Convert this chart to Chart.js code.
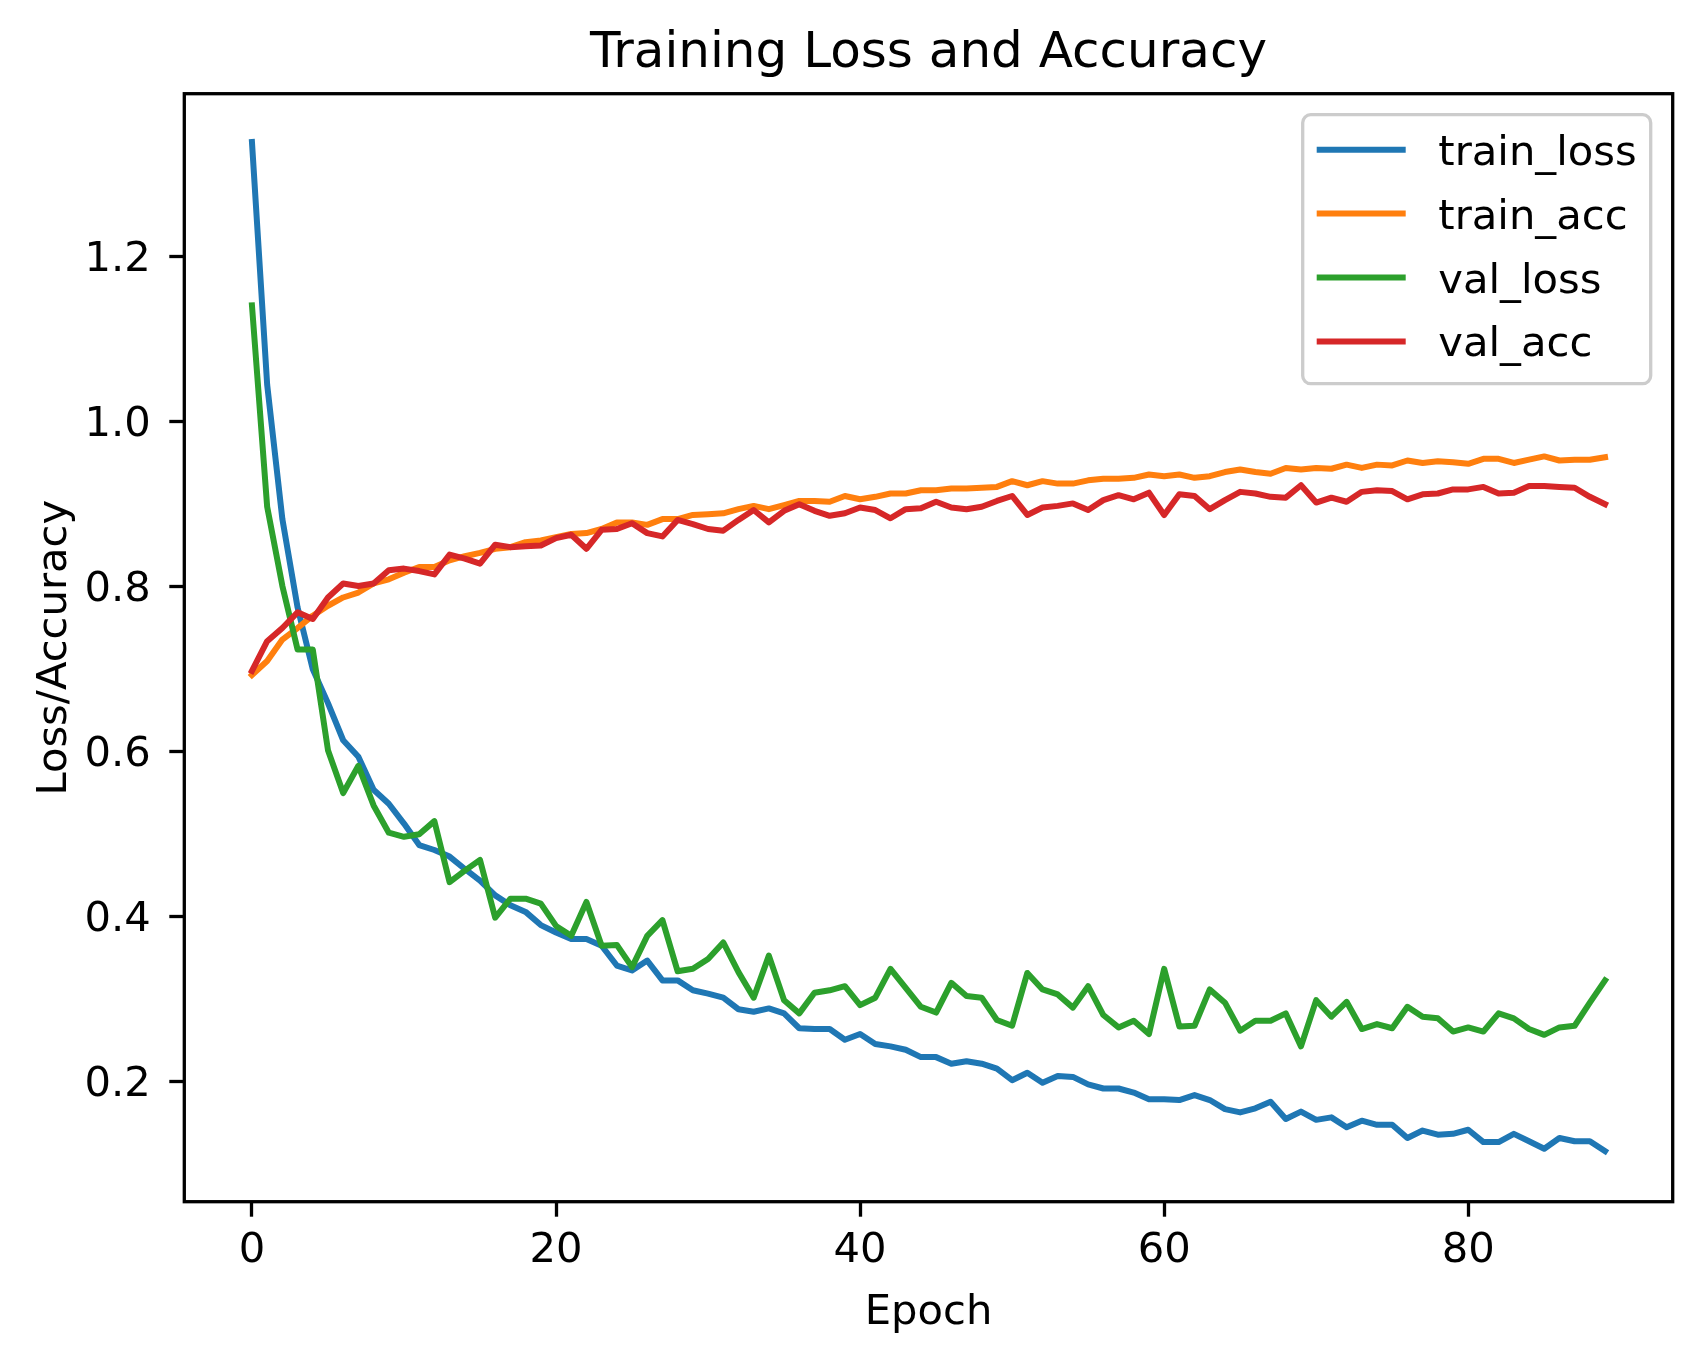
<!DOCTYPE html>
<html>
<head>
<meta charset="utf-8">
<title>Training Loss and Accuracy</title>
<script src="https://cdn.jsdelivr.net/npm/chart.js@4.4.1/dist/chart.umd.min.js"></script>
<style>
  html, body { margin: 0; padding: 0; background: #fff; }
  canvas { display: block; }
</style>
</head>
<body>
<canvas id="chart" width="1702" height="1361"></canvas>
<script>
// epochs 0..89
const epochs = Array.from({length: 90}, (_, i) => i)

const trainLoss = [1.339, 1.045, 0.882, 0.775, 0.700, 0.659, 0.614, 0.594, 0.554, 0.537,
    0.513, 0.487, 0.481, 0.473, 0.458, 0.444, 0.426, 0.414, 0.406, 0.390,
    0.381, 0.373, 0.373, 0.365, 0.341, 0.335, 0.347, 0.323, 0.323, 0.311,
    0.307, 0.302, 0.288, 0.285, 0.289, 0.283, 0.265, 0.264, 0.264, 0.251,
    0.258, 0.246, 0.243, 0.239, 0.230, 0.230, 0.222, 0.225, 0.222, 0.216,
    0.202, 0.211, 0.199, 0.207, 0.206, 0.197, 0.192, 0.192, 0.187, 0.179,
    0.179, 0.178, 0.184, 0.178, 0.167, 0.163, 0.168, 0.176, 0.155, 0.164,
    0.154, 0.157, 0.145, 0.153, 0.148, 0.148, 0.132, 0.141, 0.136, 0.137,
    0.142, 0.127, 0.127, 0.137, 0.128, 0.119, 0.132, 0.128, 0.128, 0.116]

const trainAcc = [0.693, 0.710, 0.736, 0.750, 0.765, 0.777, 0.787, 0.793, 0.804, 0.809,
    0.817, 0.824, 0.824, 0.832, 0.837, 0.841, 0.846, 0.848, 0.854, 0.856,
    0.860, 0.864, 0.865, 0.870, 0.878, 0.878, 0.875, 0.882, 0.882, 0.887,
    0.888, 0.889, 0.894, 0.898, 0.894, 0.899, 0.904, 0.904, 0.903, 0.910,
    0.906, 0.909, 0.913, 0.913, 0.917, 0.917, 0.919, 0.919, 0.920, 0.921,
    0.928, 0.923, 0.928, 0.925, 0.925, 0.929, 0.931, 0.931, 0.932, 0.936,
    0.934, 0.936, 0.932, 0.934, 0.939, 0.942, 0.939, 0.937, 0.944, 0.942,
    0.944, 0.943, 0.948, 0.944, 0.948, 0.947, 0.953, 0.950, 0.952, 0.951,
    0.949, 0.955, 0.955, 0.950, 0.954, 0.958, 0.953, 0.954, 0.954, 0.957]

const valLoss = [1.141, 0.897, 0.801, 0.724, 0.724, 0.602, 0.550, 0.583, 0.535, 0.502,
    0.497, 0.500, 0.516, 0.442, 0.456, 0.469, 0.399, 0.422, 0.422, 0.416,
    0.389, 0.377, 0.418, 0.365, 0.366, 0.339, 0.377, 0.396, 0.334, 0.337,
    0.349, 0.369, 0.333, 0.302, 0.353, 0.299, 0.283, 0.308, 0.311, 0.316,
    0.293, 0.302, 0.337, 0.314, 0.291, 0.284, 0.320, 0.304, 0.302, 0.275,
    0.268, 0.332, 0.312, 0.306, 0.290, 0.316, 0.281, 0.266, 0.274, 0.258,
    0.337, 0.267, 0.268, 0.312, 0.296, 0.262, 0.274, 0.274, 0.283, 0.243,
    0.299, 0.279, 0.297, 0.264, 0.270, 0.265, 0.291, 0.279, 0.277, 0.261,
    0.266, 0.261, 0.283, 0.277, 0.264, 0.257, 0.266, 0.268, 0.296, 0.323]

const valAcc = [0.698, 0.734, 0.750, 0.769, 0.761, 0.787, 0.804, 0.801, 0.804, 0.820,
    0.822, 0.819, 0.815, 0.839, 0.834, 0.828, 0.851, 0.848, 0.849, 0.850,
    0.859, 0.863, 0.846, 0.869, 0.870, 0.877, 0.865, 0.861, 0.881, 0.876,
    0.870, 0.868, 0.881, 0.893, 0.878, 0.892, 0.900, 0.892, 0.886, 0.889,
    0.896, 0.893, 0.883, 0.894, 0.895, 0.903, 0.896, 0.894, 0.897, 0.904,
    0.910, 0.887, 0.896, 0.898, 0.901, 0.893, 0.905, 0.911, 0.906, 0.914,
    0.887, 0.912, 0.910, 0.894, 0.905, 0.915, 0.913, 0.909, 0.908, 0.923,
    0.902, 0.908, 0.903, 0.915, 0.917, 0.916, 0.906, 0.912, 0.913, 0.918,
    0.918, 0.921, 0.913, 0.914, 0.922, 0.922, 0.921, 0.920, 0.909, 0.900]

const xTicks = [0, 20, 40, 60, 80]
const yTicks = [0.2, 0.4, 0.6, 0.8, 1.0, 1.2]

function points(values) {
    return values.map((v, i) => ({x: epochs[i], y: v}))
}

// box round the plot, drawn over the lines like matplotlib spines
const frame = {
    id: 'frame',
    afterDatasetsDraw(chart) {
        const {ctx, chartArea: a} = chart
        ctx.save()
        ctx.strokeStyle = '#000'
        ctx.lineWidth = 3.3
        ctx.strokeRect(a.left, a.top, a.right - a.left, a.bottom - a.top)
        ctx.restore()
    }
}

// legend inside the plot, upper right
const boxLegend = {
    id: 'boxLegend',
    afterDraw(chart) {
        const {ctx, chartArea: a} = chart
        const w = 348, h = 269
        const x0 = a.right - 22 - w
        const y0 = a.top + 21
        ctx.save()
        ctx.beginPath()
        ctx.roundRect(x0, y0, w, h, 8)
        ctx.fillStyle = 'rgba(255,255,255,0.8)'
        ctx.fill()
        ctx.lineWidth = 3.3
        ctx.strokeStyle = '#cccccc'
        ctx.stroke()
        ctx.font = '41.7px "DejaVu Sans"'
        ctx.textBaseline = 'alphabetic'
        chart.data.datasets.forEach((ds, i) => {
            const y = y0 + 35 + i * 63.9
            ctx.beginPath()
            ctx.moveTo(x0 + 14, y)
            ctx.lineTo(x0 + 103, y)
            ctx.strokeStyle = ds.borderColor
            ctx.lineWidth = 6
            ctx.lineCap = 'butt'
            ctx.stroke()
            ctx.fillStyle = '#000'
            ctx.fillText(ds.label, x0 + 135.6, y + 15)
        })
        ctx.restore()
    }
}

Chart.defaults.font.family = '"DejaVu Sans"'
Chart.defaults.color = '#000'

function lineSet(label, values, color, order) {
    return {
        label: label,
        data: points(values),
        borderColor: color,
        backgroundColor: color,
        borderWidth: 6,
        pointRadius: 0,
        tension: 0,
        fill: false,
        borderJoinStyle: 'round',
        borderCapStyle: 'square',
        order: order
    }
}

const ctx = document.getElementById('chart').getContext('2d')
new Chart(ctx, {
    type: 'line',
    data: {
        datasets: [
            lineSet('train_loss', trainLoss, '#1f77b4', 3),
            lineSet('train_acc', trainAcc, '#ff7f0e', 2),
            lineSet('val_loss', valLoss, '#2ca02c', 1),
            lineSet('val_acc', valAcc, '#d62728', 0)
        ]
    },
    options: {
        responsive: false,
        animation: false,
        devicePixelRatio: 1,
        layout: {padding: {left: 0, right: 29.3, top: 0, bottom: 0}},
        plugins: {
            legend: {display: false},
            tooltip: {enabled: false},
            title: {
                display: true,
                text: 'Training Loss and Accuracy',
                fullSize: false,
                font: {size: 50, weight: 'normal'},
                color: '#000',
                padding: {top: 24, bottom: 9.7}
            }
        },
        scales: {
            x: {
                type: 'linear',
                min: -4.45,
                max: 93.45,
                afterBuildTicks: s => { s.ticks = xTicks.map(v => ({value: v})) },
                afterFit: s => { s.height = 159.3 },
                ticks: {
                    font: {size: 41.7},
                    padding: 9,
                    maxRotation: 0,
                    autoSkip: false,
                    callback: v => String(v)
                },
                grid: {display: true, drawOnChartArea: false, drawTicks: true, tickLength: 15, tickWidth: 3.3, tickColor: '#000'},
                border: {display: false},
                title: {display: true, text: 'Epoch', font: {size: 41.7}, padding: {top: 0, bottom: 23}}
            },
            y: {
                type: 'linear',
                min: 0.0548,
                max: 1.3975,
                afterBuildTicks: s => { s.ticks = yTicks.map(v => ({value: v})) },
                afterFit: s => { s.width = 184.3 },
                ticks: {
                    font: {size: 41.7},
                    padding: 18.6,
                    labelOffset: 3,
                    autoSkip: false,
                    callback: v => v.toFixed(1)
                },
                grid: {display: true, drawOnChartArea: false, drawTicks: true, tickLength: 15, tickWidth: 3.3, tickColor: '#000'},
                border: {display: false},
                title: {display: true, text: 'Loss/Accuracy', font: {size: 41.7}, padding: {top: 30, bottom: 0}}
            }
        }
    },
    plugins: [frame, boxLegend]
})
</script>
</body>
</html>
